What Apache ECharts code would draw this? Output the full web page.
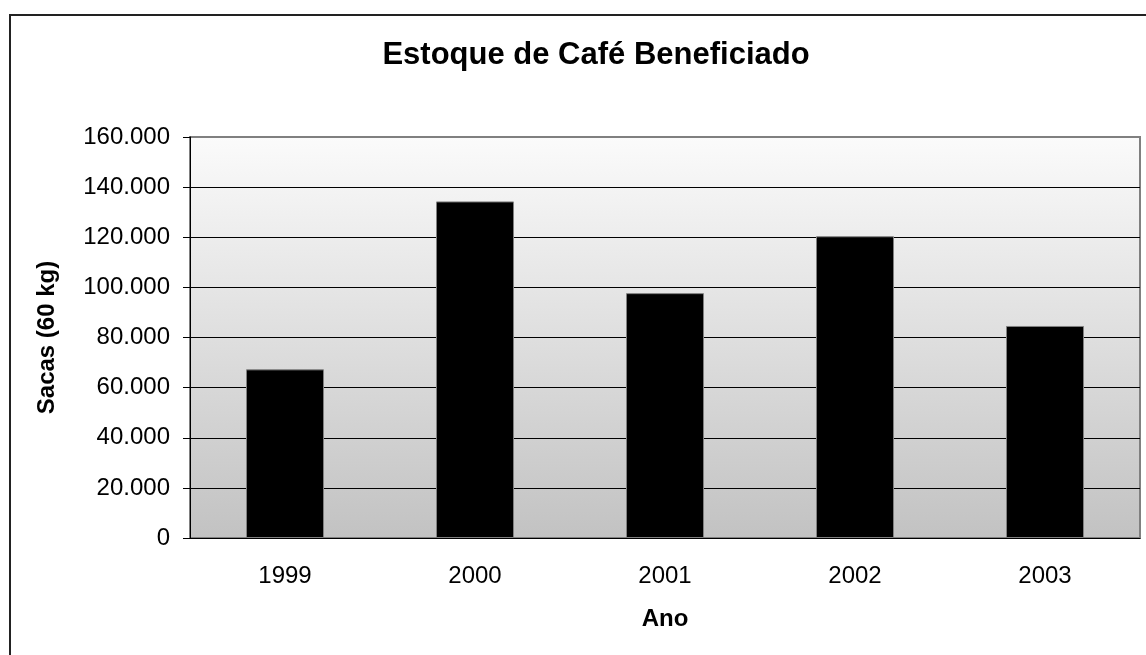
<!DOCTYPE html>
<html>
<head>
<meta charset="utf-8">
<script src="https://cdn.jsdelivr.net/npm/echarts@6/dist/echarts.min.js"></script>
<style>
  html, body { margin: 0; padding: 0; background: #fff; }
  #myChart { width: 1146px; height: 655px; }
  .frame {
    position: absolute; left: 9px; top: 14px;
    width: 1200px; height: 700px;
    border-left: 2px solid #222; border-top: 2px solid #222;
    pointer-events: none;
  }
</style>
</head>
<body>
<div id="myChart"></div>
<div class="frame"></div>
<script>
  // anos e estoque (sacas de 60 kg)
  var anos = ['1999', '2000', '2001', '2002', '2003'];
  var estoque = [67300, 134300, 97700, 120400, 84600];
  var yTicks = { min: 0, max: 160000, step: 20000 };

  function fmt(v) {
    return String(v).replace(/\B(?=(\d{3})+(?!\d))/g, '.');
  }

  // linhas de grade pretas, a de cima cinza (borda do gráfico)
  var gridColors = ['#000', '#000', '#000', '#000', '#000', '#000', '#000', '#000', '#808080'];

  var chart = echarts.init(document.getElementById('myChart'));
  chart.setOption({
    animation: false,
    textStyle: { fontFamily: 'Liberation Sans, Arial, sans-serif' },
    title: {
      text: 'Estoque de Café Beneficiado',
      left: 591, top: 35, textAlign: 'center',
      textStyle: { fontSize: 31, fontWeight: 'bold', color: '#000' }
    },
    grid: {
      left: 190, right: 6, top: 137, bottom: 117,
      show: true,
      borderColor: '#808080', borderWidth: 2,
      backgroundColor: {
        type: 'linear', x: 0, y: 0, x2: 0, y2: 1,
        colorStops: [
          { offset: 0, color: '#fbfbfb' },
          { offset: 1, color: '#c2c2c2' }
        ]
      }
    },
    xAxis: {
      type: 'category',
      data: anos,
      name: 'Ano',
      nameLocation: 'middle',
      nameGap: 69,
      nameTextStyle: { fontSize: 24, fontWeight: 'bold', color: '#000' },
      axisLine: { lineStyle: { color: '#000', width: 1 } },
      axisTick: { length: 7, lineStyle: { color: '#000' } },
      axisLabel: { fontSize: 24, color: '#000', margin: 26 }
    },
    yAxis: {
      type: 'value',
      min: yTicks.min, max: yTicks.max, interval: yTicks.step,
      name: 'Sacas (60 kg)',
      nameLocation: 'middle',
      nameGap: 131,
      nameTextStyle: { fontSize: 24, fontWeight: 'bold', color: '#000' },
      axisLine: { show: true, lineStyle: { color: '#000', width: 1 } },
      axisTick: { show: true, length: 7, lineStyle: { color: '#000' } },
      axisLabel: { fontSize: 24, color: '#000', margin: 20, formatter: fmt },
      splitLine: { lineStyle: { color: gridColors, width: 1 } }
    },
    series: [{
      type: 'bar',
      data: estoque,
      barWidth: 78,
      itemStyle: { color: '#000', borderColor: '#808080', borderWidth: 1 }
    }]
  });
</script>
</body>
</html>
